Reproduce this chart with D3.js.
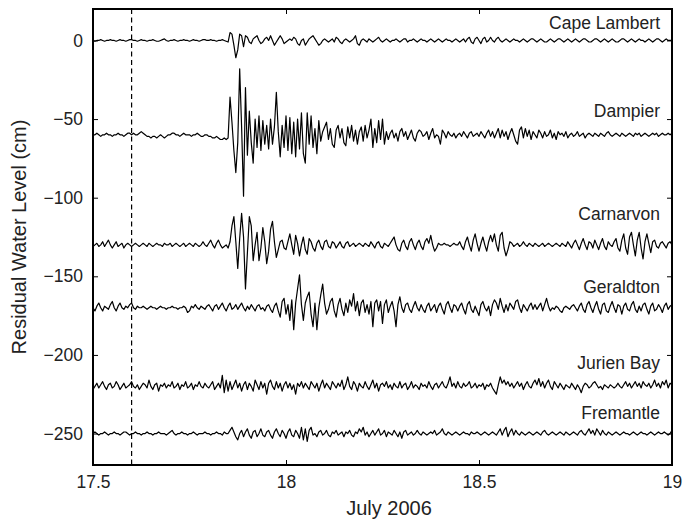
<!DOCTYPE html>
<html>
<head>
<meta charset="utf-8">
<script src="https://cdn.jsdelivr.net/npm/d3@7"></script>
<style>
  body { margin: 0; background: #fff; }
  text { font-family: "Liberation Sans", Arial, Helvetica, sans-serif; fill: #222; }
</style>
</head>
<body>
<script>
// sampling of every record: start day (July 2006) and step in days
var tStart = 17.5;
var tStep = 0.005;

// station names, vertical offsets (cm) and where the name sits (cm)
var stations = ["Cape Lambert", "Dampier", "Carnarvon", "Geraldton", "Jurien Bay", "Fremantle"];
var offsets = [0, -60, -130, -170, -220, -250];
var labelLevels = [11, -45, -110, -157, -205, -237];

var xTicks = [17.5, 18, 18.5, 19];
var yTicks = [-250, -200, -150, -100, -50, 0];
var eventMarker = 17.6;

// residual water level (cm)
var capeLambert = [
  0,-0.5,0,0,0.5,0,-0.5,0,0,0.5,
  0,0,-0.5,0,0.5,0,0,-0.5,0,0.5,
  0.5,0,0,-0.5,0,0.5,0,0,-0.5,0,
  0,0.5,0,-0.5,-0.5,0,0.5,1,0,-0.5,
  0,0,0.5,0,-0.5,0,0,0.5,0,0,
  -0.5,0,0.5,0,0,-0.5,0,0.5,0.5,0,
  0,0.5,0,0,-0.5,0,0,0.5,0,-0.5,
  -1,5,4,-3,-11,-6,4,3,-4,3,
  2,-1,-2,1,2,3,0,-2,-1,1,
  2,0,3,0,-3,-1,1,3,1,-2,
  -1,0,1,0,2,1,-2,-3,0,1,
  -3,-1,1,2,3,1,-1,-3,-2,0,
  1,0,-1,0,1,-1,2,1,-1,-2,
  0,1,0,-1,0,1,3,-2,-3,0,
  1,0,-1,1,0,-1,0,1,2,0,
  -1,0,1,0,-1,0,0,1,0,-1,
  0,1,1,-1,0,0,1,0,-1,0,
  1,0,0,-1,0,1,0,-1,0,1,
  0,-1,0,1,0,0,-1,0,1,0,
  -1,0,1,-1,1,2,-1,-2,1,2,
  0,-2,1,2,-1,0,2,0,-1,1,
  2,0,-1,0,1,0,-1,0,1,0,
  0,-1,0,1,0,-1,0,1,1,0,
  -1,0,1,0,-1,-1,0,1,0,-1,
  0,1,1,0,-1,0,1,0,-1,0,
  1,0,-1,0,1,1,0,-1,-1,0,
  1,1,0,-1,0,1,0,-1,0,1,
  0,-1,-1,0,1,1,0,-1,0,1,
  0,-1,0,1,0,0,-1,0,1,0,
  -1,0,1,1,0,-1,0,1,0,0,
  0
];

var dampier = [
  0,0,1,0,-1,0,0,1,0,0,
  -1,0,0,1,0,0,-1,0,1,1,
  0,1,0,0,1,2,1,0,-1,-1,
  -2,-1,-1,-2,-1,0,-1,-2,-1,0,
  0,1,1,0,0,-1,0,1,0,0,
  0,-1,0,0,1,0,-1,-1,0,0,
  -1,-1,-2,-2,-1,-2,-3,-3,-2,-3,
  -2,24,8,-10,-24,-5,42,5,-39,30,
  -13,15,-5,-18,10,-8,12,-10,9,-6,
  6,-9,10,-6,5,27,2,-14,6,-8,
  12,-10,11,-12,8,-14,10,-9,14,-12,
  -18,14,-6,12,-8,4,-12,9,-4,2,
  5,8,-3,4,-6,-8,3,6,-2,4,
  -5,-7,5,-2,6,-4,3,-6,2,5,
  -4,6,-2,3,10,-8,4,-5,9,-3,
  10,-6,2,-3,1,3,-2,1,-4,2,
  4,-1,2,-3,0,3,-2,-4,1,3,
  2,-1,0,2,-3,1,4,-2,0,-1,
  -6,3,1,-2,2,0,-1,1,-2,0,
  1,-1,2,0,-2,1,2,-1,0,1,
  -1,2,0,-2,1,3,-1,2,-2,1,
  4,-2,3,-1,2,-3,1,4,0,-4,
  -6,3,5,-2,4,-1,3,-3,2,0,
  -2,3,1,-2,2,-1,0,3,-2,1,
  -3,2,0,1,-1,2,-2,0,1,-1,
  0,2,-1,0,1,-2,0,1,0,-1,
  1,0,-1,1,0,-1,1,2,0,-1,
  0,1,0,-1,1,0,-1,0,1,0,
  -1,1,0,1,-1,0,1,0,-1,0,
  1,0,1,-1,0,1,0,0,1,0,
  1
];

var carnarvon = [
  -1,0,1,-1,0,2,-1,1,3,0,
  -2,0,2,-1,0,1,-2,0,1,0,
  -1,0,1,0,-1,0,1,0,-1,1,
  0,-1,0,1,0,0,-1,1,0,0,
  1,-1,0,1,0,-1,0,1,-1,0,
  1,0,-1,1,0,-1,0,2,0,-1,
  1,3,0,-2,1,3,0,-2,-1,0,
  -2,2,12,18,2,-15,4,20,5,-28,
  -5,18,12,-10,0,8,-10,-2,11,2,
  -12,-4,10,15,2,-8,-3,2,3,-2,
  -3,2,7,0,-6,6,1,-7,0,5,
  -3,-6,4,2,-2,-4,1,3,-1,-3,
  2,3,-1,-2,2,1,-2,0,2,-1,
  -2,1,2,-1,0,1,-1,0,1,0,
  -1,1,0,-1,2,0,-2,1,2,-1,
  -2,1,0,-1,1,3,5,0,-3,-4,
  1,3,-1,-3,2,4,0,-3,1,3,
  -1,-3,2,4,1,6,0,-4,-2,1,
  0,0,1,0,0,-1,0,1,0,0,
  2,-1,-3,2,5,0,-4,3,7,1,
  -4,1,5,0,-4,2,6,2,7,0,
  -4,6,8,-2,-7,-3,2,1,-1,0,
  1,-1,0,2,0,-1,1,0,-1,1,
  0,-1,0,1,-1,0,1,0,-1,0,
  1,0,-1,1,0,-1,2,0,-2,1,
  3,0,-3,1,4,0,-3,2,1,-2,
  3,0,-3,1,4,-1,-3,2,0,-1,
  2,4,-2,-4,3,7,-2,-6,5,8,
  0,-7,3,8,-2,-9,2,7,1,-5,
  2,3,-1,-2,1,2,0,-2,1,2,
  0
];

var geraldton = [
  0,-2,1,3,0,-2,1,0,-1,2,
  4,0,-2,1,3,0,-1,1,0,2,
  3,0,-1,1,0,0,1,0,-1,0,
  1,0,0,-1,0,1,0,0,-1,0,
  0,1,0,0,-1,0,0,1,0,-3,
  -2,1,0,2,0,-1,1,0,-1,1,
  2,0,-2,1,2,-1,1,3,0,-2,
  1,3,-1,0,2,-1,1,3,0,-2,
  1,-1,2,0,-2,1,2,-1,0,-2,
  1,2,-1,-3,1,3,-2,-6,4,6,
  -4,2,-8,5,-14,3,12,21,2,-8,
  3,7,10,-4,-12,3,-14,0,8,15,
  3,-4,-1,4,6,-2,-6,2,6,-1,
  -5,3,-3,5,1,9,-2,4,-5,3,
  5,-3,2,-4,4,-12,3,5,-2,4,
  -10,2,5,-3,1,4,-2,-12,2,7,
  0,-3,2,3,-1,-3,1,4,0,-2,
  2,-1,-3,1,3,-2,0,2,-3,1,
  3,-1,-4,2,4,0,-3,2,1,-2,
  1,3,-1,-4,2,4,-1,-3,1,-2,
  -5,2,4,0,-2,1,-5,2,5,3,
  -1,6,1,-3,2,-2,3,1,-1,4,
  5,0,-3,2,0,-2,1,3,-1,2,
  -1,1,3,-2,2,6,1,-2,0,-1,
  1,0,-2,-3,0,1,0,-1,1,2,
  0,-2,1,3,-1,-3,2,4,0,-3,
  1,4,-1,-4,2,3,-2,-3,1,4,
  0,-3,2,1,-4,1,3,-1,-2,2,
  4,-1,-3,1,-2,2,3,-1,-4,1,
  3,-2,-1,2,0,-3,1,3,-1,1,
  2
];

var jurienBay = [
  -2,0,2,-1,1,3,0,-2,1,2,
  -1,0,3,1,-2,0,2,-1,0,1,
  3,0,-1,1,-2,0,2,1,-1,4,
  0,-2,1,2,-3,1,0,2,-1,1,
  0,3,-1,0,2,-2,1,0,3,-1,
  0,2,-2,1,0,3,0,-1,2,0,
  -1,1,3,-2,0,2,-1,7,-4,4,
  -3,3,-2,1,4,-1,2,-3,1,3,
  -2,2,0,-3,4,1,-2,3,-1,2,
  -5,2,4,0,-2,3,-1,2,-3,1,
  3,-1,2,-2,1,-5,2,0,3,-1,
  2,0,-2,3,1,-1,2,-3,1,4,
  -1,2,0,-2,3,1,-1,2,0,4,
  -2,1,6,0,-2,3,1,-3,2,0,
  -1,3,0,-2,1,4,-1,2,-3,1,
  2,0,3,-1,1,-2,2,0,-1,3,
  -1,1,2,-2,0,3,-1,1,0,-2,
  2,0,1,-1,3,0,-2,1,2,-1,
  1,3,0,-1,2,6,0,2,-1,3,
  0,-1,2,0,1,3,-1,0,2,-1,
  1,0,2,-2,1,0,2,-1,-3,-5,
  1,6,2,4,1,3,0,2,-1,1,
  3,0,2,-2,1,3,0,-1,2,4,
  1,5,0,3,-1,2,4,0,-2,3,
  1,-1,2,0,-2,1,0,-1,2,0,
  -2,1,-1,-4,0,2,1,-1,0,2,
  3,1,-1,0,-2,1,0,-1,1,0,
  -1,0,2,0,-1,1,3,0,2,-1,
  1,3,0,2,-1,3,1,0,2,-1,
  1,4,0,2,-1,3,1,4,-1,2,
  1
];

var fremantle = [
  0,1,0,-1,0,0,1,0,-1,0,
  0,1,0,0,-1,0,1,1,0,-1,
  0,0,1,0,0,-1,0,0,1,0,
  0,-1,0,0,1,0,0,0,-1,0,
  1,2,0,-1,0,0,1,0,0,-1,
  0,0,1,0,-1,0,0,0,1,0,
  0,-1,0,0,1,0,0,-1,1,0,
  0,2,4,1,-2,-4,0,2,-2,1,
  3,-1,-3,1,2,-2,0,3,-1,-2,
  1,2,-1,-3,1,3,0,-2,2,0,
  -3,1,3,-1,-2,2,0,-3,4,-4,
  3,-5,2,4,-1,0,-2,1,2,-1,
  0,2,-1,-2,1,0,2,-1,0,1,
  -2,1,0,2,-1,-2,1,0,3,1,
  4,-1,1,-2,0,2,-1,1,3,-1,
  0,2,-2,1,0,-1,2,0,-2,1,
  -3,1,2,-1,0,1,-1,0,2,0,
  -1,1,0,-1,0,1,0,2,-1,0,
  1,3,0,-1,1,0,-1,0,1,0,
  -1,0,1,0,0,-1,1,0,0,1,
  0,-1,0,1,0,-1,0,1,0,-1,
  1,3,-1,2,4,-2,1,3,-1,2,
  0,-1,1,0,-1,0,1,0,-1,0,
  1,0,-1,1,2,0,-1,0,1,0,
  -1,0,1,0,-1,1,0,-1,0,1,
  0,-1,1,2,0,-1,1,3,0,2,
  -1,3,1,-1,2,0,-1,1,0,-1,
  0,1,0,-1,0,1,0,0,-1,0,
  1,0,-1,0,1,0,0,-1,0,1,
  0,-1,0,1,0,0,1,0,-1,0,
  2
];

var records = [capeLambert, dampier, carnarvon, geraldton, jurienBay, fremantle];

/***** Layout *****/
var margin = {top: 9, right: 11, bottom: 59, left: 93};
var width = 683 - margin.left - margin.right;
var height = 524 - margin.top - margin.bottom;

var x = d3.scaleLinear().domain([17.5, 19]).range([0, width]);
var y = d3.scaleLinear().domain([-270, 20]).range([height, 0]);

var svg = d3.select("body").append("svg")
  .attr("width", 683)
  .attr("height", 524);

var g = svg.append("g")
  .attr("transform", "translate(" + margin.left + "," + margin.top + ")");

svg.append("defs").append("clipPath")
  .attr("id", "clip")
  .append("rect")
  .attr("width", width)
  .attr("height", height);

/***** Traces *****/
var line = d3.line()
  .x(function(d, i) { return x(tStart + i * tStep); })
  .y(function(d) { return y(d); });

var traces = g.append("g").attr("clip-path", "url(#clip)");

records.forEach(function(rec, k) {
  var shifted = rec.map(function(v) { return v + offsets[k]; });
  traces.append("path")
    .datum(shifted)
    .attr("fill", "none")
    .attr("stroke", "#000")
    .attr("stroke-width", 1.2)
    .attr("stroke-linejoin", "round")
    .attr("d", line);
});

// dashed marker
g.append("line")
  .attr("x1", x(eventMarker)).attr("x2", x(eventMarker))
  .attr("y1", 0).attr("y2", height)
  .attr("stroke", "#000")
  .attr("stroke-width", 1.2)
  .attr("stroke-dasharray", "5,3.5");

// station names
g.selectAll(".station")
  .data(stations)
  .enter().append("text")
  .attr("class", "station")
  .attr("x", width - 12)
  .attr("y", function(d, i) { return y(labelLevels[i]); })
  .attr("dy", "0.35em")
  .attr("text-anchor", "end")
  .style("font-size", "17.5px")
  .text(function(d) { return d; });

/***** Axes *****/
function minus(d) { return d < 0 ? "\u2212" + Math.abs(d) : String(d); }

function styleAxis(sel) {
  sel.select(".domain").remove();
  sel.selectAll(".tick line").attr("stroke", "#000").attr("stroke-width", 1);
  sel.selectAll(".tick text").style("font-size", "17.5px").attr("fill", "#222");
  sel.attr("font-family", null);
}

g.append("g")
  .call(d3.axisLeft(y).tickValues(yTicks).tickSizeInner(-5).tickSizeOuter(0).tickPadding(10).tickFormat(minus))
  .call(styleAxis);

g.append("g")
  .attr("transform", "translate(" + width + ",0)")
  .call(d3.axisRight(y).tickValues(yTicks).tickSizeInner(-5).tickSizeOuter(0).tickFormat(""))
  .call(styleAxis);

g.append("g")
  .attr("transform", "translate(0," + height + ")")
  .call(d3.axisBottom(x).tickValues(xTicks).tickSizeInner(-5).tickSizeOuter(0).tickPadding(11).tickFormat(function(d) { return String(d); }))
  .call(styleAxis);

g.append("g")
  .call(d3.axisTop(x).tickValues(xTicks).tickSizeInner(-5).tickSizeOuter(0).tickFormat(""))
  .call(styleAxis);

// frame
g.append("rect")
  .attr("width", width)
  .attr("height", height)
  .attr("fill", "none")
  .attr("stroke", "#000")
  .attr("stroke-width", 2);

// axis titles
svg.append("text")
  .attr("x", 389)
  .attr("y", 515)
  .attr("text-anchor", "middle")
  .style("font-size", "20px")
  .text("July 2006");

svg.append("text")
  .attr("transform", "translate(26," + (margin.top + height / 2) + ") rotate(-90)")
  .attr("text-anchor", "middle")
  .style("font-size", "20px")
  .text("Residual Water Level (cm)");
</script>
</body>
</html>
